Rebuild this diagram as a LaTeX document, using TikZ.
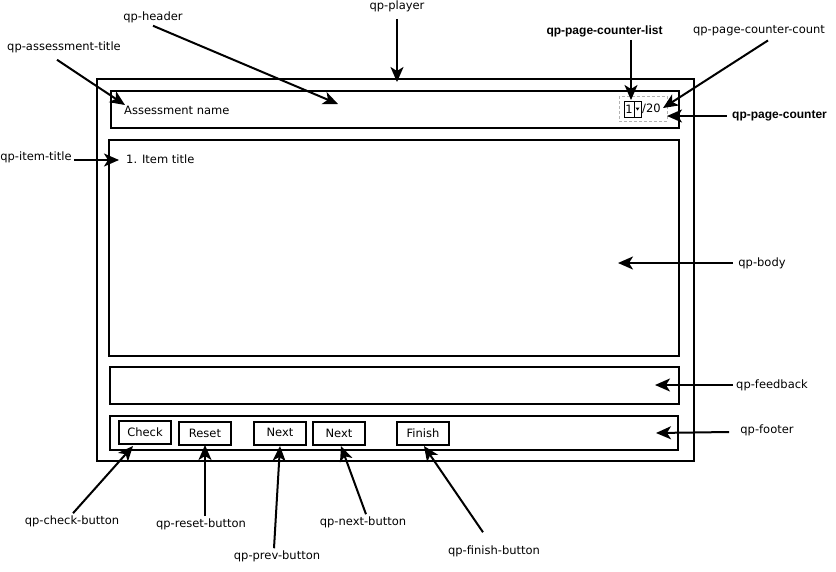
\documentclass[tikz,border=0pt]{standalone}
\usepackage{fontspec}
\setmainfont{DejaVu Sans}
\newfontfamily\arialish{Liberation Sans}
\usetikzlibrary{arrows.meta}
\begin{document}
\begin{tikzpicture}[x=1pt,y=-1pt,
  box/.style={draw,line width=2pt},
  btn/.style={draw,line width=2pt,minimum width=52pt,minimum height=23pt,inner sep=0pt,font=\fontsize{11.5}{12}\selectfont},
  lbl/.style={font=\fontsize{11.5}{12}\selectfont,inner sep=1pt},
  lblb/.style={font=\arialish\bfseries\fontsize{12}{13}\selectfont,inner sep=1pt},
  txt/.style={font=\fontsize{11.5}{12}\selectfont,inner sep=0pt,anchor=west},
  arr/.style={line width=2pt,-{Stealth[length=15pt,width=13pt,inset=4pt]}}]
\useasboundingbox (0,0) rectangle (836,571);

% layout boxes
\draw[box] (97,79) rectangle (694,461);
\draw[box] (111,91) rectangle (679,128);
\draw[box] (109,140) rectangle (679,356);
\draw[box] (110,367) rectangle (679,404);
\draw[box] (110,416) rectangle (678,450);

% header contents
\node[txt] (aname) at (124,110) {Assessment name};
\draw[gray!60,densely dashed,line width=0.6pt] (619,96) rectangle (667,121);
\draw[line width=1pt] (624,101) rectangle (641,117);
\draw[line width=1pt] (634,101) -- (634,117);
\node[font=\fontsize{11.5}{12}\selectfont,inner sep=0pt] (sel) at (629,109.5) {1};
\fill (635.5,107.5) -- (639.5,107.5) -- (637.5,110.5) -- cycle;
\node[txt] (cnt) at (642,109) {/20};

% body contents
\node[txt] (ititle) at (126,159) {1. Item title};

% footer buttons
\node[btn] (check) at (145,432.5) {\raisebox{1pt}{Check}};
\node[btn] (reset) at (205,433) {\raisebox{-1pt}{Reset}};
\node[btn] (prev) at (280,433) {\raisebox{1pt}{Next}};
\node[btn] (next) at (339,433.5) {\raisebox{-1pt}{Next}};
\node[btn] (finish) at (423,433.5) {\raisebox{-1pt}{Finish}};

% labels
\node[lbl] (lplayer) at (397,6) {qp-player};
\node[lbl] (lheader) at (153,17) {qp-header};
\node[lbl] (lat) at (64,47) {qp-assessment-title};
\node[lbl] (lit) at (36,157) {qp-item-title};
\node[lblb] (lpcl) at (604.5,31) {qp-page-counter-list};
\node[lbl] (lpcc) at (759,31) {qp-page-counter-count};
\node[lblb] (lpc) at (779.5,116) {qp-page-counter};
\node[lbl] (lbody) at (762,263) {qp-body};
\node[lbl] (lfb) at (772,385) {qp-feedback};
\node[lbl] (lft) at (767,430) {qp-footer};
\node[lbl] (lcheck) at (72,521) {qp-check-button};
\node[lbl] (lreset) at (201,524) {qp-reset-button};
\node[lbl] (lprev) at (277,556) {qp-prev-button};
\node[lbl] (lnext) at (363,522) {qp-next-button};
\node[lbl] (lfinish) at (494,551) {qp-finish-button};

% arrow end points
\coordinate (tplayer) at (397,82);
\coordinate (theader) at (338,104);
\coordinate (tat) at (125,105);
\coordinate (tit) at (119,160);
\coordinate (tpcl) at (631,100);
\coordinate (tpcc) at (663,108);
\coordinate (tpc) at (667,116);
\coordinate (tbody) at (618,263);
\coordinate (tfb) at (655,385);
\coordinate (tft) at (656,433);
\coordinate (tcheck) at (133,446);
\coordinate (treset) at (205,445);
\coordinate (tprev) at (280,446);
\coordinate (tnext) at (341,446);
\coordinate (tfinish) at (424,446);

% arrows
\draw[arr] (lplayer.south) ++(0,6) -- (tplayer);
\draw[arr] (lheader.south) ++(0,2) -- (theader);
\draw[arr] (lat.south) ++(-7,6) -- (tat);
\draw[arr] (lit.east) ++(1,3) -- (tit);
\draw[arr] (lpcl.south) ++(26.5,2) -- (tpcl);
\draw[arr] (lpcc.south) ++(9,3) -- (tpcc);
\draw[arr] (lpc.west) ++(-4,0) -- (tpc);
\draw[arr] (lbody.west) ++(-4,0) -- (tbody);
\draw[arr] (lfb.west) ++(-2,0) -- (tfb);
\draw[arr] (lft.west) ++(-10,2) -- (tft);
\draw[arr] (lcheck.north) ++(1,-1) -- (tcheck);
\draw[arr] (lreset.north) ++(4,-1) -- (treset);
\draw[arr] (lprev.north) ++(-3,-1) -- (tprev);
\draw[arr] (lnext.north) ++(3,-1) -- (tnext);
\draw[arr] (lfinish.north) ++(-11,-12) -- (tfinish);
\end{tikzpicture}
\end{document}
